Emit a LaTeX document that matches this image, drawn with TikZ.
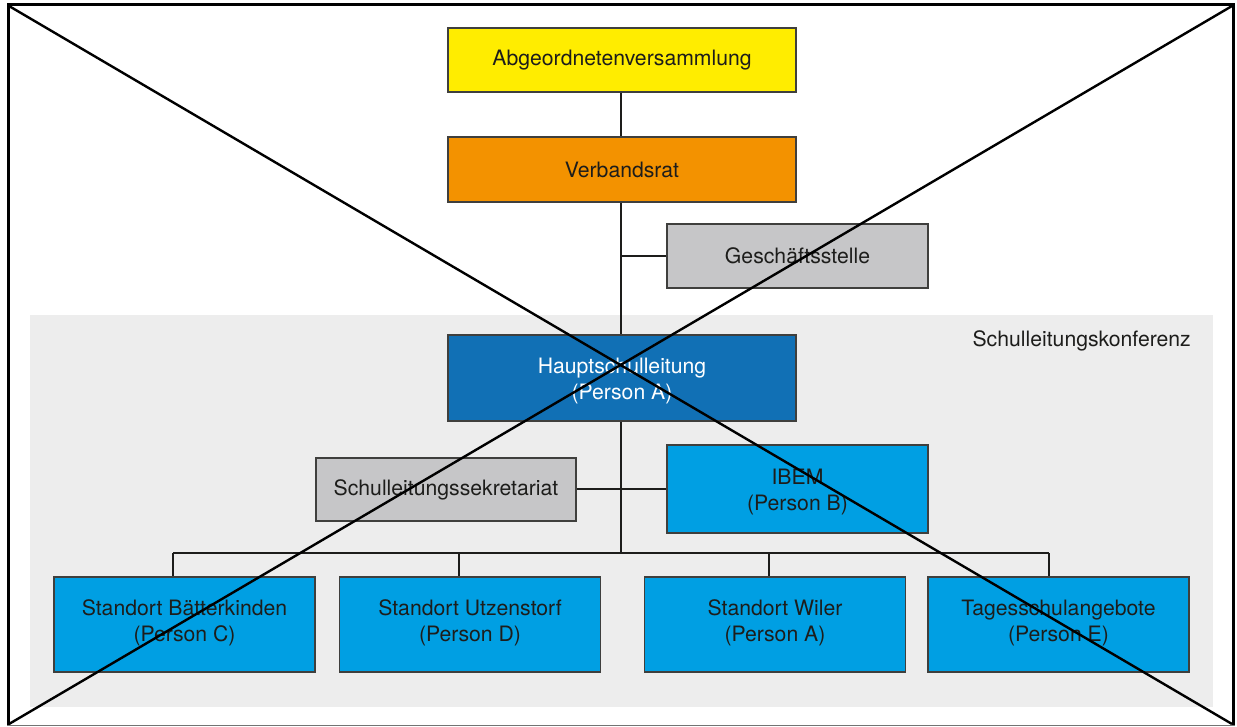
\documentclass[tikz,border=0pt]{standalone}
\usepackage{fontspec}
\setmainfont{TeX Gyre Heros}
\definecolor{yel}{HTML}{FFED00}
\definecolor{ora}{HTML}{F39200}
\definecolor{grybox}{HTML}{C6C6C8}
\definecolor{dblue}{HTML}{1170B5}
\definecolor{lblue}{HTML}{009FE3}
\definecolor{band}{HTML}{EDEDED}
\definecolor{ink}{HTML}{1D1D1B}
\tikzset{
  txt/.style={inner sep=0pt, align=center, font=\fontsize{21.2}{26}\selectfont, text=ink},
  orgbox/.style={txt, draw=ink!85, line width=1.3pt},
  widebox/.style={orgbox, minimum width=348pt},
  smallbox/.style={orgbox, minimum width=261pt},
  % two-line caption placed in the middle of a box
  inside/.style 2 args={label={[txt, yshift=#1]center:{#2}}},
  link/.style={draw=ink, line width=2pt},
  cross/.style={draw=black, line width=2.4pt},
}
\begin{document}
\begin{tikzpicture}[x=1pt, y=-1pt]
  \useasboundingbox (0,0) rectangle (1237,727);
  \fill[white] (0,0) rectangle (1237,727);

  % conference band
  \fill[band] (30,315) rectangle (1213,707);
  \node[txt, anchor=east] (konf) at (1191,341) {Schulleitungskonferenz};

  % boxes
  \node[widebox, fill=yel, minimum height=64pt] (abg) at (622,60) {Abgeordnetenversammlung};
  \node[widebox, fill=ora, minimum height=65pt] (verb) at (622,169.5) {Verbandsrat};
  \node[smallbox, fill=grybox, minimum height=64pt] (gesch) at (797.5,256) {Geschäftsstelle};
  \node[widebox, fill=dblue, minimum height=86pt,
    label={[txt, text=white, yshift=-3pt]center:{Hauptschulleitung\\(Person A)}}] (haupt) at (622,378) {};
  \node[orgbox, fill=grybox, minimum width=260pt, minimum height=63pt] (sekr) at (446,489.5)
    {Schulleitungssekretariat};
  \node[smallbox, fill=lblue, minimum height=88pt,
    inside={-3pt}{IBEM\\(Person B)}] (ibem) at (797.5,489) {};

  \node[smallbox, fill=lblue, minimum height=95pt,
    inside={1.5pt}{Standort Bätterkinden\\(Person C)}] (baet) at (184.5,624.5) {};
  \node[smallbox, fill=lblue, minimum height=95pt,
    inside={1.5pt}{Standort Utzenstorf\\(Person D)}] (utz) at (470,624.5) {};
  \node[smallbox, fill=lblue, minimum height=95pt,
    inside={1.5pt}{Standort Wiler\\(Person A)}] (wil) at (775,624.5) {};
  \node[smallbox, fill=lblue, minimum height=95pt,
    inside={1.5pt}{Tagesschulangebote\\(Person E)}] (tag) at (1058.5,624.5) {};

  % connectors
  \coordinate (busmid) at (621,553);
  \coordinate (dB) at (173,553);
  \coordinate (dU) at (459,553);
  \coordinate (dW) at (769,553);
  \coordinate (dT) at (1049,553);
  \draw[link] (abg.south -| busmid) -- (verb.north -| busmid);
  \draw[link] (verb.south -| busmid) -- (haupt.north -| busmid);
  \draw[link] (haupt.south -| busmid) -- (busmid);
  \draw[link] (gesch.west) -- (gesch.west -| busmid);
  \draw[link] (sekr.east |- ibem.west) -- (ibem.west);
  \draw[link] (dB) -- (dT);
  \draw[link] (dB) -- (dB |- baet.north);
  \draw[link] (dU) -- (dU |- utz.north);
  \draw[link] (dW) -- (dW |- wil.north);
  \draw[link] (dT) -- (dT |- tag.north);

  % crossing lines
  \draw[cross] (9,6) -- (1232,724);
  \draw[cross] (9,724) -- (1232,6);

  % frame
  \draw[black, line width=3pt] (8,725) -- (8,5) -- (1233,5) -- (1233,725);
  \draw[black!55, line width=1.5pt] (7,725.5) -- (1234.5,725.5);
\end{tikzpicture}
\end{document}
